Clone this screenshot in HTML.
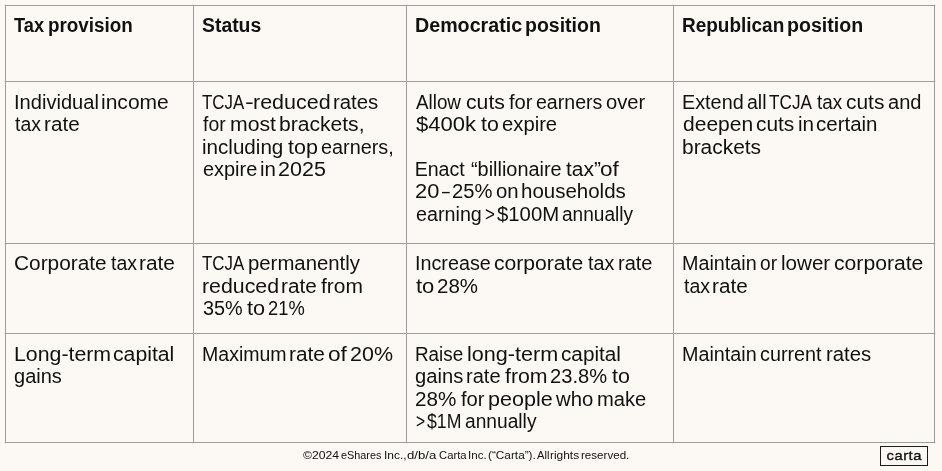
<!DOCTYPE html>
<html lang="en">
<head>
<meta charset="utf-8">
<title>Tax provisions</title>
<style>
html,body{margin:0;padding:0;}
body{width:942px;height:471px;background:#fcf9f4;position:relative;overflow:hidden;
  font-family:"Liberation Sans",Arial,sans-serif;color:#111;}
.v,.h{position:absolute;background:#9e9e9e;}
.v{width:1px;top:5px;height:438px;}
.v:before{content:'';position:absolute;left:0;top:-1px;width:1px;height:440px;background:rgba(158,158,158,.3);}
.h{height:1px;left:5px;width:930px;}
.h:before{content:'';position:absolute;top:0;left:-1px;height:1px;width:932px;background:rgba(158,158,158,.3);}
.l{position:absolute;left:0;width:942px;height:22px;font-size:19.6px;line-height:22px;white-space:nowrap;}
.l span{position:absolute;top:0;transform-origin:0 0;}
.b{font-weight:bold;}
.f{font-size:11.2px;line-height:14px;height:14px;}
.logo{position:absolute;left:880px;top:446px;width:46px;height:18px;border:1px solid #1c1c1c;
  font-size:13.2px;line-height:17px;text-align:center;color:#111;}
.logo span{display:inline-block;transform:scaleX(1.12);letter-spacing:0.45px;text-indent:0.45px;-webkit-text-stroke:0.35px #111;}
</style>
</head>
<body>
<div class="v" style="left:5px"></div>
<div class="v" style="left:193px"></div>
<div class="v" style="left:406px"></div>
<div class="v" style="left:673px"></div>
<div class="v" style="left:934px"></div>
<div class="h" style="top:5px"></div>
<div class="h" style="top:81px"></div>
<div class="h" style="top:243px"></div>
<div class="h" style="top:333px"></div>
<div class="h" style="top:442px"></div>
<div class="l b" style="top:14px"><span style="left:14.21px;transform:scaleX(0.9291)">Tax </span><span style="left:47.68px;transform:scaleX(0.9623)">provision</span></div>
<div class="l b" style="top:14px"><span style="left:202.33px;transform:scaleX(0.9890)">Status</span></div>
<div class="l b" style="top:14px"><span style="left:415.33px;transform:scaleX(1.0035)">Democratic </span><span style="left:525.25px;transform:scaleX(0.9953)">position</span></div>
<div class="l b" style="top:14px"><span style="left:682.36px;transform:scaleX(0.9681)">Republican </span><span style="left:787.20px;transform:scaleX(0.9994)">position</span></div>
<div class="l" style="top:91px"><span style="left:13.81px;transform:scaleX(1.0257)">Individual </span><span style="left:100.54px;transform:scaleX(1.0734)">income</span></div>
<div class="l" style="top:113px"><span style="left:14.65px;transform:scaleX(0.9912)">tax </span><span style="left:43.88px;transform:scaleX(1.0561)">rate</span></div>
<div class="l" style="top:91px"><span style="left:202.29px;transform:scaleX(0.8613)">TCJA</span><span style="left:245.12px;transform:scaleX(1.3474)">-</span><span style="left:253.05px;transform:scaleX(1.0963)">reduced </span><span style="left:332.70px;transform:scaleX(1.0402)">rates</span></div>
<div class="l" style="top:113px"><span style="left:203.35px;transform:scaleX(0.9888)">for </span><span style="left:229.51px;transform:scaleX(1.0829)">most </span><span style="left:279.16px;transform:scaleX(1.0758)">brackets,</span></div>
<div class="l" style="top:136px"><span style="left:202.09px;transform:scaleX(1.0515)">including </span><span style="left:287.70px;transform:scaleX(1.0979)">top </span><span style="left:320.81px;transform:scaleX(1.0123)">earners,</span></div>
<div class="l" style="top:158px"><span style="left:202.51px;transform:scaleX(1.0169)">expire </span><span style="left:260.26px;transform:scaleX(1.0427)">in </span><span style="left:278.22px;transform:scaleX(1.0977)">2025</span></div>
<div class="l" style="top:91px"><span style="left:416.27px;transform:scaleX(0.9595)">Allow </span><span style="left:465.65px;transform:scaleX(1.0822)">cuts </span><span style="left:508.64px;transform:scaleX(1.0292)">for </span><span style="left:536.09px;transform:scaleX(0.9977)">earners </span><span style="left:605.58px;transform:scaleX(1.0326)">over</span></div>
<div class="l" style="top:113px"><span style="left:415.91px;transform:scaleX(1.1253)">$400k </span><span style="left:481.03px;transform:scaleX(1.0885)">to </span><span style="left:502.47px;transform:scaleX(1.0330)">expire</span></div>
<div class="l" style="top:158px"><span style="left:414.66px;transform:scaleX(1.0000)">Enact </span><span style="left:471.14px;transform:scaleX(1.0146)">“billionaire </span><span style="left:565.62px;transform:scaleX(1.0689)">tax” </span><span style="left:600.02px;transform:scaleX(1.1511)">of</span></div>
<div class="l" style="top:180px"><span style="left:415.28px;transform:scaleX(1.1150)">20</span><span style="left:441.56px;transform:scaleX(0.7064)">–</span><span style="left:451.73px;transform:scaleX(1.0307)">25% </span><span style="left:495.69px;transform:scaleX(1.0395)">on </span><span style="left:520.66px;transform:scaleX(1.0456)">households</span></div>
<div class="l" style="top:203px"><span style="left:415.52px;transform:scaleX(1.0071)">earning </span><span style="left:485.04px;transform:scaleX(0.8632)">&gt; </span><span style="left:496.84px;transform:scaleX(1.0379)">$100M </span><span style="left:561.61px;transform:scaleX(0.9727)">annually</span></div>
<div class="l" style="top:91px"><span style="left:682.27px;transform:scaleX(1.0110)">Extend </span><span style="left:747.35px;transform:scaleX(0.9971)">all </span><span style="left:769.16px;transform:scaleX(0.8765)">TCJA </span><span style="left:817.10px;transform:scaleX(0.9606)">tax </span><span style="left:846.03px;transform:scaleX(1.0680)">cuts </span><span style="left:888.10px;transform:scaleX(1.0230)">and</span></div>
<div class="l" style="top:113px"><span style="left:682.73px;transform:scaleX(1.0733)">deepen </span><span style="left:755.54px;transform:scaleX(1.0652)">cuts </span><span style="left:798.00px;transform:scaleX(1.0550)">in </span><span style="left:816.39px;transform:scaleX(1.0455)">certain</span></div>
<div class="l" style="top:136px"><span style="left:682.40px;transform:scaleX(1.0679)">brackets</span></div>
<div class="l" style="top:252px"><span style="left:13.85px;transform:scaleX(1.0635)">Corporate </span><span style="left:110.75px;transform:scaleX(0.9951)">tax </span><span style="left:139.34px;transform:scaleX(1.0632)">rate</span></div>
<div class="l" style="top:252px"><span style="left:202.29px;transform:scaleX(0.8613)">TCJA </span><span style="left:247.80px;transform:scaleX(1.0376)">permanently</span></div>
<div class="l" style="top:275px"><span style="left:202.04px;transform:scaleX(1.0886)">reduced </span><span style="left:281.41px;transform:scaleX(1.0563)">rate </span><span style="left:321.04px;transform:scaleX(1.0707)">from</span></div>
<div class="l" style="top:297px"><span style="left:202.64px;transform:scaleX(1.0119)">35% </span><span style="left:246.72px;transform:scaleX(1.1082)">to </span><span style="left:268.26px;transform:scaleX(0.9360)">21%</span></div>
<div class="l" style="top:252px"><span style="left:414.64px;transform:scaleX(1.0083)">Increase </span><span style="left:494.46px;transform:scaleX(1.0778)">corporate </span><span style="left:588.09px;transform:scaleX(1.0063)">tax </span><span style="left:617.62px;transform:scaleX(1.0213)">rate</span></div>
<div class="l" style="top:275px"><span style="left:416.26px;transform:scaleX(1.1244)">to </span><span style="left:437.45px;transform:scaleX(1.0456)">28%</span></div>
<div class="l" style="top:252px"><span style="left:682.16px;transform:scaleX(1.0081)">Maintain </span><span style="left:759.92px;transform:scaleX(0.9784)">or </span><span style="left:780.67px;transform:scaleX(1.0513)">lower </span><span style="left:833.74px;transform:scaleX(1.0795)">corporate</span></div>
<div class="l" style="top:275px"><span style="left:683.55px;transform:scaleX(0.9951)">tax </span><span style="left:712.30px;transform:scaleX(1.0561)">rate</span></div>
<div class="l" style="top:343px"><span style="left:13.82px;transform:scaleX(1.0872)">Long-term </span><span style="left:113.15px;transform:scaleX(1.0816)">capital</span></div>
<div class="l" style="top:365px"><span style="left:13.87px;transform:scaleX(1.0218)">gains</span></div>
<div class="l" style="top:343px"><span style="left:201.66px;transform:scaleX(0.9967)">Maximum </span><span style="left:289.38px;transform:scaleX(1.0632)">rate </span><span style="left:327.51px;transform:scaleX(1.1570)">of </span><span style="left:350.30px;transform:scaleX(1.0960)">20%</span></div>
<div class="l" style="top:343px"><span style="left:414.68px;transform:scaleX(0.9614)">Raise </span><span style="left:466.78px;transform:scaleX(1.1021)">long-term </span><span style="left:560.55px;transform:scaleX(1.0590)">capital</span></div>
<div class="l" style="top:365px"><span style="left:415.30px;transform:scaleX(1.0295)">gains </span><span style="left:466.02px;transform:scaleX(1.0245)">rate </span><span style="left:505.48px;transform:scaleX(1.0855)">from </span><span style="left:550.25px;transform:scaleX(1.0274)">23.8% </span><span style="left:612.45px;transform:scaleX(1.0962)">to</span></div>
<div class="l" style="top:388px"><span style="left:415.35px;transform:scaleX(1.0533)">28% </span><span style="left:460.74px;transform:scaleX(1.0292)">for </span><span style="left:487.63px;transform:scaleX(1.0996)">people </span><span style="left:556.20px;transform:scaleX(1.0360)">who </span><span style="left:596.59px;transform:scaleX(1.0279)">make</span></div>
<div class="l" style="top:410px"><span style="left:415.74px;transform:scaleX(0.7952)">&gt; </span><span style="left:427.16px;transform:scaleX(0.9015)">$1M </span><span style="left:464.64px;transform:scaleX(0.9792)">annually</span></div>
<div class="l" style="top:343px"><span style="left:682.16px;transform:scaleX(1.0081)">Maintain </span><span style="left:759.86px;transform:scaleX(1.0100)">current </span><span style="left:825.90px;transform:scaleX(1.0378)">rates</span></div>
<div class="l f" style="top:448px"><span style="left:303.31px;transform:scaleX(1.0906)">©2024 </span><span style="left:341.21px;transform:scaleX(0.9694)">eShares </span><span style="left:383.87px;transform:scaleX(1.0706)">Inc., </span><span style="left:407.45px;transform:scaleX(1.1782)">d/b/a </span><span style="left:438.57px;transform:scaleX(1.0093)">Carta </span><span style="left:468.27px;transform:scaleX(1.0335)">Inc. </span><span style="left:488.05px;transform:scaleX(1.0542)">(“Carta”). </span><span style="left:537.16px;transform:scaleX(0.9985)">All </span><span style="left:550.12px;transform:scaleX(1.0640)">rights </span><span style="left:580.82px;transform:scaleX(1.0362)">reserved.</span></div>
<div class="logo"><span>carta</span></div>
</body>
</html>
